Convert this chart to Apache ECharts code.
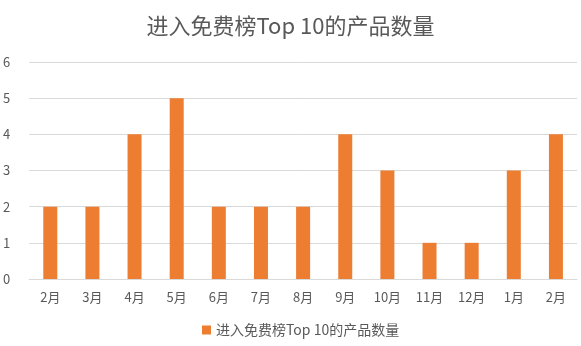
<!DOCTYPE html>
<html>
<head>
<meta charset="utf-8">
<script src="https://cdn.jsdelivr.net/npm/echarts@6/dist/echarts.min.js"></script>
<style>
  html, body { margin: 0; padding: 0; background: #fff; }
  #chart { width: 581px; height: 346px; }
</style>
</head>
<body>
<div id="chart"></div>
<script>
// Monthly count of products reaching the free chart Top 10
const chartTitle = '进入免费榜Top 10的产品数量';
const seriesName = '进入免费榜Top 10的产品数量';
const months = ['2月', '3月', '4月', '5月', '6月', '7月', '8月', '9月', '10月', '11月', '12月', '1月', '2月'];
const counts = [2, 2, 4, 5, 2, 2, 2, 4, 3, 1, 1, 3, 4];

const fontFamily = '"Noto Sans CJK SC", "Open Sans", sans-serif';
const textColor = '#595959';

const chart = echarts.init(document.getElementById('chart'));
chart.setOption({
  animation: false,
  backgroundColor: '#ffffff',
  title: {
    text: chartTitle,
    left: 'center',
    top: 10,
    textStyle: { fontFamily, fontSize: 22, fontWeight: 'normal', color: textColor }
  },
  legend: {
    bottom: 4,
    left: 197,
    itemWidth: 9,
    itemHeight: 9,
    itemGap: 10,
    icon: 'rect',
    textStyle: { fontFamily, fontSize: 14, color: textColor }
  },
  grid: { left: 29, right: 4, top: 62, bottom: 67 },
  xAxis: {
    type: 'category',
    data: months,
    axisLine: { lineStyle: { color: '#d9d9d9' } },
    axisTick: { show: false },
    axisLabel: { fontFamily, fontSize: 13, color: textColor, margin: 12 }
  },
  yAxis: {
    type: 'value',
    min: 0,
    max: 6,
    interval: 1,
    axisLine: { show: false },
    axisTick: { show: false },
    axisLabel: { fontFamily, fontSize: 13, color: textColor, margin: 19 },
    splitLine: { lineStyle: { color: '#d9d9d9' } }
  },
  series: [{
    name: seriesName,
    type: 'bar',
    data: counts,
    barWidth: 14,
    itemStyle: { color: '#ed7d31' }
  }]
});
</script>
</body>
</html>
